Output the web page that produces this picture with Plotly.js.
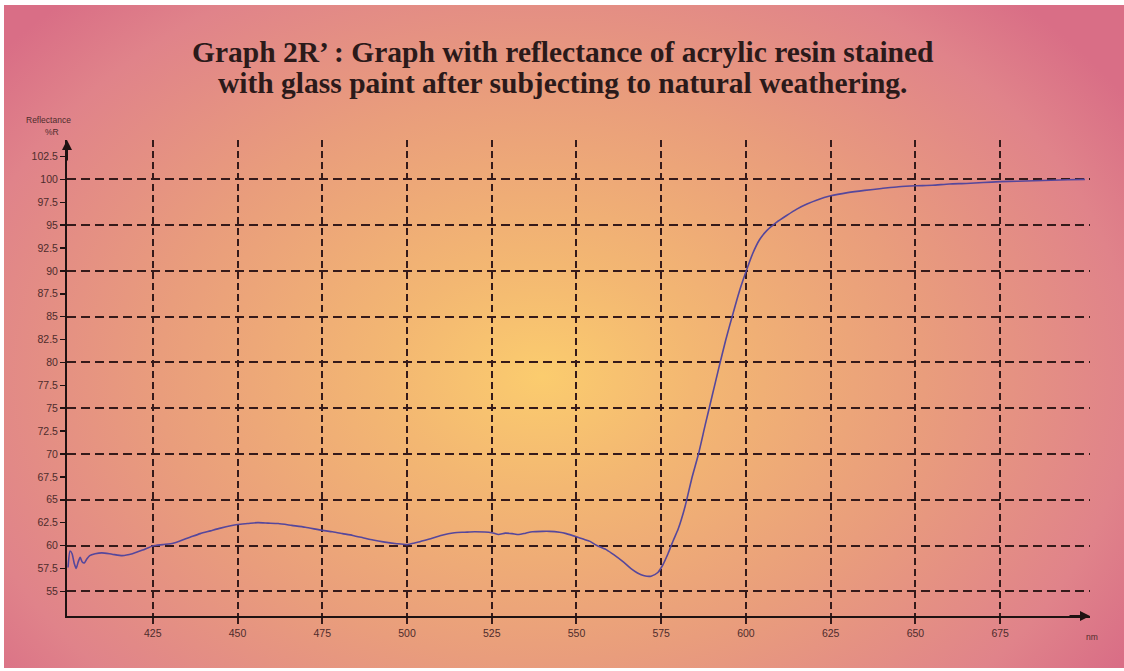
<!DOCTYPE html>
<html>
<head>
<meta charset="utf-8">
<script src="https://cdn.plot.ly/plotly-3.0.1.min.js"></script>
<style>
  html, body { margin: 0; padding: 0; background: #ffffff; width: 1124px; height: 671px; overflow: hidden; }
  #bg { position: absolute; left: 4px; top: 5px; width: 1120px; height: 663px;
        background: radial-gradient(ellipse 62% 78% at 48% 56%, #fbcc6e 0%, #f3b772 22%, #e99d7c 55%, #e0838a 85%, #d96e86 100%); }
  #chart { position: absolute; left: 0; top: 0; width: 1124px; height: 671px; }
</style>
</head>
<body>
<div id="bg"></div>
<div id="chart"></div>
<script>
// Wavelength (nm) and reflectance (%R)
const wavelength = [400, 400.6, 401.2, 401.8, 402.4, 403.0, 403.6, 404.2, 404.8, 405.5, 406.4, 408, 410, 413, 416, 419, 422, 425, 428, 431, 433, 436, 439, 442, 445, 450, 453, 456, 459, 462, 466, 470, 475, 478, 481, 484, 487, 490, 493, 497, 500, 502, 504, 507, 510, 514, 517, 520, 525, 527, 529, 531, 533, 535, 537, 540, 542, 545, 547, 550, 552, 554, 556, 559, 561, 564, 566, 568, 570, 572, 574, 575.5, 577, 578.5, 580, 582, 584, 586, 588, 590, 592, 594, 596, 598, 600, 602, 604, 606, 609, 612, 615, 618, 621, 625, 630, 635, 640, 645, 650, 655, 660, 665, 670, 675, 680, 685, 690, 695, 700];
const reflectance = [57.6, 59.4, 59.1, 58.1, 57.5, 58.2, 58.7, 58.2, 58.1, 58.5, 58.9, 59.1, 59.2, 59.05, 58.9, 59.1, 59.5, 59.95, 60.1, 60.25, 60.5, 60.9, 61.3, 61.6, 61.9, 62.3, 62.4, 62.5, 62.45, 62.4, 62.2, 62.0, 61.65, 61.5, 61.3, 61.1, 60.85, 60.6, 60.4, 60.2, 60.1, 60.25, 60.45, 60.75, 61.1, 61.4, 61.45, 61.5, 61.4, 61.2, 61.35, 61.3, 61.2, 61.35, 61.5, 61.55, 61.55, 61.45, 61.3, 60.95, 60.7, 60.45, 60.0, 59.5, 59.0, 58.15, 57.5, 57.0, 56.7, 56.65, 57.05, 57.9, 59.1, 60.5, 61.8, 64.2, 67.3, 70.0, 73.2, 76.3, 79.4, 82.4, 85.1, 87.7, 89.9, 91.9, 93.4, 94.35, 95.3, 96.05, 96.75, 97.3, 97.75, 98.2, 98.55, 98.8, 99.0, 99.2, 99.3, 99.35, 99.5, 99.55, 99.65, 99.75, 99.8, 99.85, 99.9, 99.95, 100.0];

const xTicks = [425, 450, 475, 500, 525, 550, 575, 600, 625, 650, 675];
const yTicks = [55, 57.5, 60, 62.5, 65, 67.5, 70, 72.5, 75, 77.5, 80, 82.5, 85, 87.5, 90, 92.5, 95, 97.5, 100, 102.5];
const yGrid = [55, 60, 65, 70, 75, 80, 85, 90, 95, 100];

const titleLines = [
  'Graph 2R\u2019 : Graph with reflectance of acrylic resin stained',
  'with glass paint after subjecting to natural weathering.'
];

const xRange = [399.7, 701.5];
const yRange = [52.3, 104.3];

const axisColor = '#1e1212';
const gridColor = '#351a1a';
const labelColor = '#4e2c2c';
const sans = 'Liberation Sans, Arial, sans-serif';

const traces = [
  {
    x: wavelength, y: reflectance, type: 'scatter', mode: 'lines',
    line: { color: '#55479c', width: 1.6, shape: 'spline', smoothing: 0.6 },
    hoverinfo: 'x+y', showlegend: false
  },
  {
    x: [xRange[0]], y: [yRange[0]], type: 'scatter', mode: 'markers',
    marker: { opacity: 0 }, yaxis: 'y2', showlegend: false, hoverinfo: 'skip'
  }
];

const titleFont = { family: 'Liberation Serif, Times New Roman, serif', size: 29.5, weight: 'bold', color: '#2b1a1a' };

const layout = {
  width: 1124, height: 671,
  margin: { l: 67, r: 34, t: 140, b: 55 },
  paper_bgcolor: 'rgba(0,0,0,0)',
  plot_bgcolor: 'rgba(0,0,0,0)',
  showlegend: false,
  xaxis: {
    range: xRange, tickvals: xTicks, ticktext: xTicks.map(String),
    showgrid: true, gridcolor: gridColor, gridwidth: 2, griddash: '7px,4px',
    showline: true, linecolor: axisColor, linewidth: 2,
    ticks: 'outside', ticklen: 6, tickwidth: 2, tickcolor: gridColor,
    tickfont: { family: sans, size: 10.5, color: labelColor },
    zeroline: false, fixedrange: true
  },
  yaxis: {
    range: yRange, tickvals: yTicks, ticktext: yTicks.map(String),
    showgrid: false,
    showline: true, linecolor: axisColor, linewidth: 2,
    ticks: 'outside', ticklen: 5, tickwidth: 1.5, tickcolor: axisColor,
    tickfont: { family: sans, size: 10.5, color: labelColor },
    zeroline: false, fixedrange: true
  },
  yaxis2: {
    range: yRange, overlaying: 'y', tickvals: yGrid, showticklabels: false,
    showgrid: true, gridcolor: gridColor, gridwidth: 2, griddash: '9px,5px',
    showline: false, ticks: '', zeroline: false, fixedrange: true
  },
  annotations: [
    { xref: 'paper', yref: 'paper', x: 0.4848, y: 1.1849, text: titleLines[0], showarrow: false,
      xanchor: 'center', yanchor: 'middle', font: titleFont },
    { xref: 'paper', yref: 'paper', x: 0.4848, y: 1.1197, text: titleLines[1], showarrow: false,
      xanchor: 'center', yanchor: 'middle', font: titleFont },
    { xref: 'paper', yref: 'paper', x: 0, y: 1, ax: 0, ay: 22, text: '', showarrow: true,
      arrowhead: 2, arrowsize: 1, arrowwidth: 2, arrowcolor: axisColor, standoff: 0 },
    { xref: 'paper', yref: 'paper', x: 1, y: 0, ax: -22, ay: 0, text: '', showarrow: true,
      arrowhead: 2, arrowsize: 1, arrowwidth: 2, arrowcolor: axisColor, standoff: 0 },
    { xref: 'paper', yref: 'paper', x: -0.0176, y: 1.042, text: 'Reflectance', showarrow: false,
      xanchor: 'center', yanchor: 'middle', font: { family: sans, size: 8.5, color: labelColor } },
    { xref: 'paper', yref: 'paper', x: -0.015, y: 1.017, text: '%R', showarrow: false,
      xanchor: 'center', yanchor: 'middle', font: { family: sans, size: 8.5, color: labelColor } },
    { xref: 'paper', yref: 'paper', x: 1.002, y: -0.044, text: 'nm', showarrow: false,
      xanchor: 'center', yanchor: 'middle', font: { family: sans, size: 8.5, color: labelColor } }
  ]
};

Plotly.newPlot('chart', traces, layout, { displayModeBar: false, staticPlot: true });
</script>
</body>
</html>
